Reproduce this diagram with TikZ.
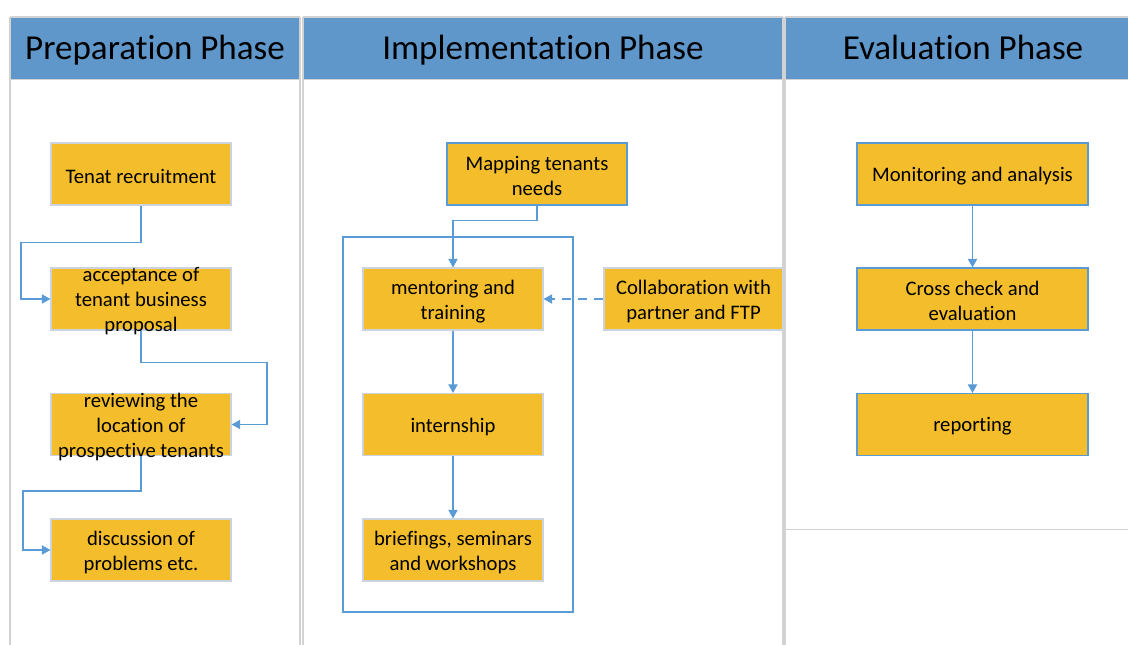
\documentclass[tikz,border=0pt]{standalone}
\usepackage{fontspec}
\setmainfont[Ligatures=CommonOff]{Carlito}
\usetikzlibrary{arrows.meta}
\definecolor{hdr}{HTML}{6097CB}
\definecolor{gold}{HTML}{F4BD2C}
\definecolor{lineb}{HTML}{5B9BD5}
\definecolor{boxg}{HTML}{CCD3DC}
\definecolor{laneg}{HTML}{D2D2D2}
\begin{document}
\begin{tikzpicture}[x=0.75pt,y=-0.75pt,
  lane/.style={draw=laneg, line width=1pt},
  box/.style={rectangle, inner sep=0pt, fill=gold, draw=boxg, line width=0.8pt,
    minimum width=135pt, minimum height=46.5pt},
  bbox/.style={box, draw=lineb},
  txt/.style={font=\fontsize{15.5}{18.75}\selectfont, align=center, text=black, inner sep=0pt, yshift=-1.6pt},
  hdrtxt/.style={font=\fontsize{26.3}{30}\selectfont, text=black, anchor=base, inner sep=0pt},
  flow/.style={draw=lineb, line width=0.9pt, -{Triangle[length=6.5pt,width=7pt]}},
  dashflow/.style={flow, dash pattern=on 7pt off 5pt}]
\useasboundingbox (0,0) rectangle (1128,645);
% headers
\fill[hdr] (10,17) rectangle (300,79);
\fill[hdr] (303,17) rectangle (783,79);
\fill[hdr] (785,17) rectangle (1128,79);
% lanes
\draw[lane] (10,17) -- (300,17);
\draw[lane] (303,17) -- (783,17);
\draw[lane] (785,17) -- (1128,17);
\draw[lane] (10,79.5) -- (300,79.5);
\draw[lane] (303,79.5) -- (783,79.5);
\draw[lane] (785,79.5) -- (1128,79.5);
\draw[lane] (10,17) -- (10,645);
\draw[lane] (300,17) -- (300,645);
\draw[lane] (303,17) -- (303,645);
\draw[lane] (783,17) -- (783,645);
\draw[lane] (785,17) -- (785,645);
\draw[lane] (785,529.5) -- (1128,529.5);
% header texts
\node[hdrtxt] (h1) at (155,60) {Preparation Phase};
\node[hdrtxt] (h2) at (543,60) {Implementation Phase};
\node[hdrtxt] (h3) at (963,60) {Evaluation Phase};
% group frame
\node[draw=lineb, line width=0.9pt, minimum width=172.5pt, minimum height=281.25pt, inner sep=0pt] (grp) at (458,424.5) {};
% column 1
\node[box, label={[txt]center:Tenat recruitment}] (tenat) at (141,174) {};
\node[box, label={[txt]center:acceptance of\\tenant business\\proposal}] (acc) at (141,299) {};
\node[box, label={[txt]center:reviewing the\\location of\\prospective tenants}] (rev) at (141,424.5) {};
\node[box, label={[txt]center:discussion of\\problems etc.}] (disc) at (141,550) {};
% column 2
\node[bbox, label={[txt]center:Mapping tenants\\needs}] (map) at (537,174) {};
\node[box, label={[txt]center:mentoring and\\training}] (ment) at (453,299) {};
\node[box, label={[txt]center:internship}] (intern) at (453,424.5) {};
\node[box, label={[txt]center:briefings, seminars\\and workshops}] (brief) at (453,550) {};
\node[box, minimum width=134.25pt, label={[txt]center:Collaboration with\\partner and FTP}] (collab) at (693.5,299) {};
% column 3
\node[bbox, minimum width=173.25pt, label={[txt]center:Monitoring and analysis}] (mon) at (972.5,174) {};
\node[bbox, minimum width=173.25pt, label={[txt]center:Cross check and\\evaluation}] (cross) at (972.5,299) {};
\node[bbox, minimum width=173.25pt, label={[txt]center:reporting}] (rep) at (972.5,424.5) {};
% connectors
\draw[flow] (tenat.south) -- ++(0,37) -| (21,299) -- (acc.west);
\draw[flow] (acc.south) -- ++(0,32) -| (267,424.5) -- (rev.east);
\draw[flow] (rev.south) -- ++(0,35) -| (23,550) -- (disc.west);
\draw[flow] (map.south) -- ++(0,15) -| (ment.north);
\draw[flow] (ment) -- (intern);
\draw[flow] (intern) -- (brief);
\draw[dashflow] (collab.west) -- (ment.east);
\draw[flow] (mon) -- (cross);
\draw[flow] (cross) -- (rep);
\end{tikzpicture}
\end{document}
